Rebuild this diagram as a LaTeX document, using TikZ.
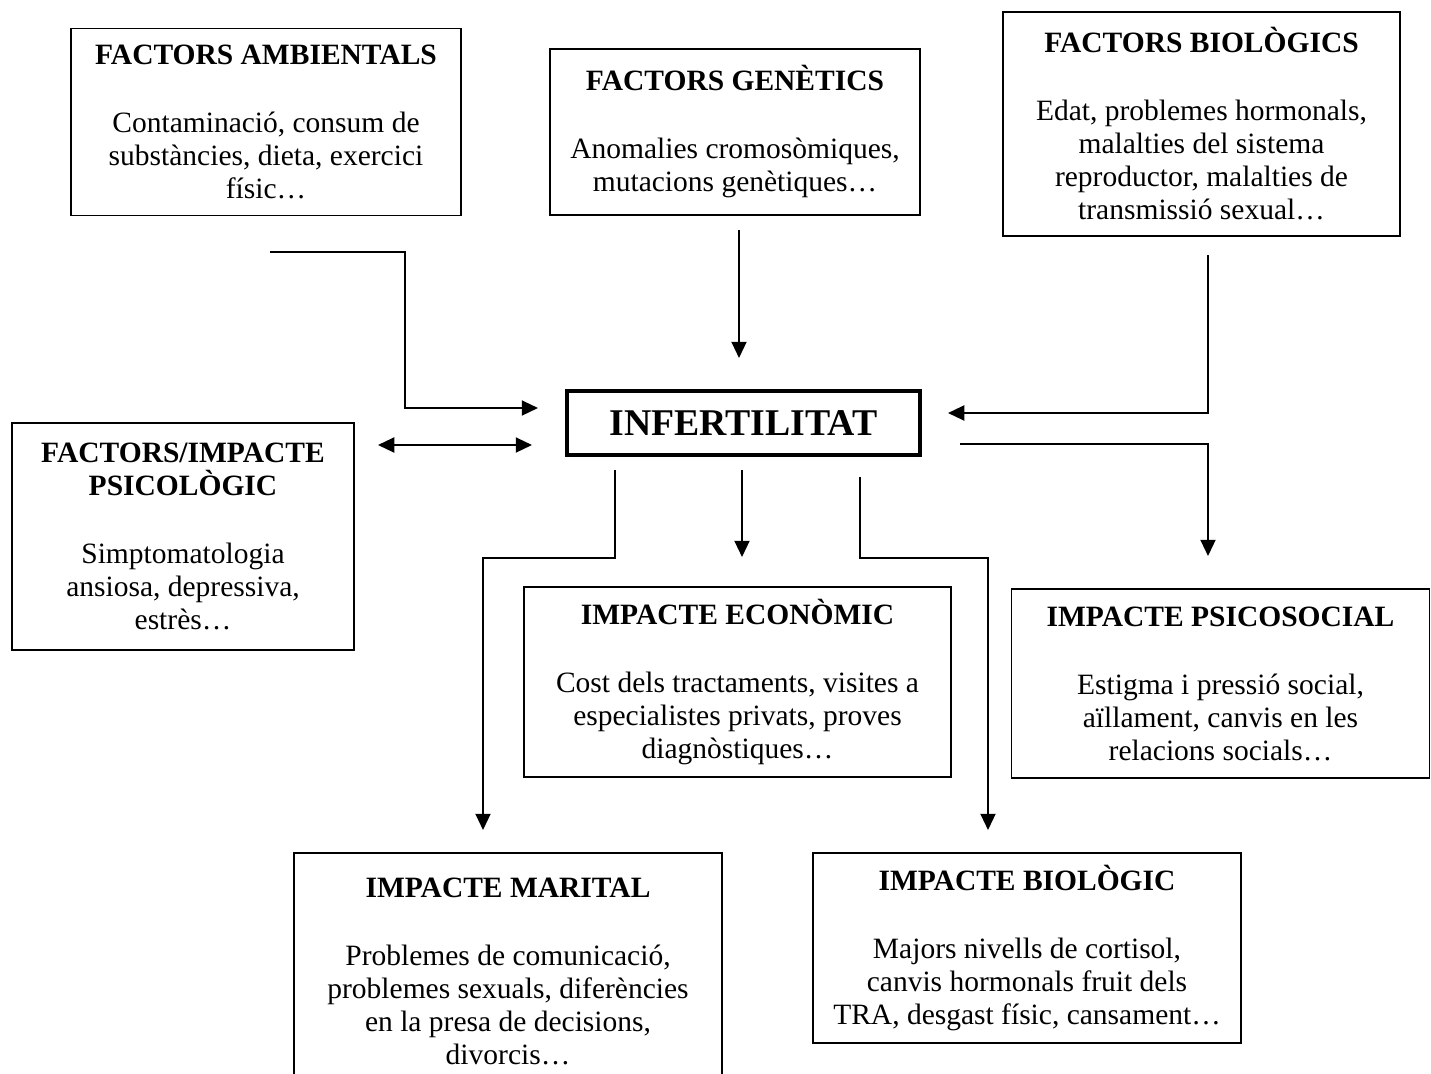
\documentclass[tikz,border=0pt]{standalone}
\usepackage{fontspec}
\setmainfont{Liberation Serif}
\usetikzlibrary{arrows.meta, calc}

\begin{document}
\begin{tikzpicture}[
    x=0.4pt, y=-0.4pt,
    sz/.style 2 args={minimum width=#1*0.4pt, minimum height=#2*0.4pt},
    box/.style={draw, line width=0.6pt, inner sep=0pt, outer sep=0pt, align=center,
      font=\fontsize{11.8}{13.2}\selectfont},
    mainbox/.style={draw, line width=1.5pt, inner sep=0pt, outer sep=0pt,
      font=\fontsize{15.1}{16}\selectfont\bfseries},
    arr/.style={-{Triangle[length=6.5pt, width=6pt]}, line width=0.8pt},
    arrtwo/.style={{Triangle[length=6.5pt, width=6pt]}-{Triangle[length=6.5pt, width=6pt]}, line width=0.8pt}]
\useasboundingbox (0,0) rectangle (1431,1073);
\clip (0,0) rectangle (1431,1073);
% factors
\node[box, sz={390}{187}] (amb) at (266,122)
  {\textbf{FACTORS AMBIENTALS}\\[14pt]Contaminació, consum de\\substàncies, dieta, exercici\\físic…};
\node[box, sz={370}{166}] (gen) at (735,132)
  {\textbf{FACTORS GENÈTICS}\\[14pt]Anomalies cromosòmiques,\\mutacions genètiques…};
\node[box, sz={397}{224}] (bio) at (1201.5,124)
  {\textbf{FACTORS BIOLÒGICS}\\[14pt]Edat, problemes hormonals,\\malalties del sistema\\reproductor, malalties de\\transmissió sexual…};
\node[box, sz={342}{227}] (psi) at (183,536.5)
  {\textbf{FACTORS/IMPACTE}\\\textbf{PSICOLÒGIC}\\[14pt]Simptomatologia\\ansiosa, depressiva,\\estrès…};
% centre
\node[mainbox, sz={353}{64}] (inf) at (743.5,423) {INFERTILITAT};
% impactes
\node[box, sz={427}{190}] (eco) at (737.5,682)
  {\textbf{IMPACTE ECONÒMIC}\\[14pt]Cost dels tractaments, visites a\\especialistes privats, proves\\diagnòstiques…};
\node[box, sz={418}{189}] (soc) at (1220.5,683.5)
  {\textbf{IMPACTE PSICOSOCIAL}\\[14pt]Estigma i pressió social,\\aïllament, canvis en les\\relacions socials…};
\node[box, sz={428}{237}] (mar) at (508,971.5)
  {\textbf{IMPACTE MARITAL}\\[14pt]Problemes de comunicació,\\problemes sexuals, diferències\\en la presa de decisions,\\divorcis…};
\node[box, sz={428}{190}] (bib) at (1027,948)
  {\textbf{IMPACTE BIOLÒGIC}\\[14pt]Majors nivells de cortisol,\\canvis hormonals fruit dels\\TRA, desgast físic, cansament…};
% connectors
\draw[arr] ($(amb.south)+(4,36)$) -| ($(inf.west)+(-162,-15)$) -- ($(inf.west)+(-29,-15)$);
\draw[arr] ($(gen.south)+(4,15)$) -- ($(inf.north)+(-4.5,-33)$);
\draw[arr] ($(bio.south)+(6.5,19)$) |- ($(inf.east)+(28,-10)$);
\draw[arrtwo] ($(psi.east)+(24,-91.5)$) -- ($(inf.west)+(-35,22)$);
\draw[arr] ($(inf.east)+(40,21)$) -| ($(soc.north)+(-12.5,-33)$);
\draw[arr] ($(inf.south)+(-128.5,15)$) |- ($(mar.north)+(-25,-295)$) -- ($(mar.north)+(-25,-23)$);
\draw[arr] ($(inf.south)+(-1.5,15)$) -- ($(eco.north)+(4.5,-30)$);
\draw[arr] ($(inf.south)+(116.5,22)$) |- ($(bib.north)+(-39,-295)$) -- ($(bib.north)+(-39,-23)$);
\end{tikzpicture}
\end{document}
